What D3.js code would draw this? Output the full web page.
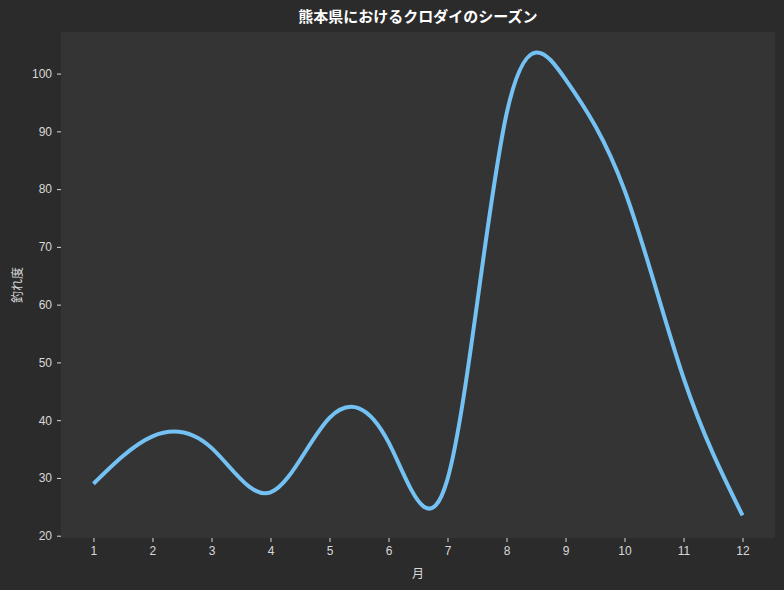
<!DOCTYPE html>
<html lang="ja">
<head>
    <meta charset="UTF-8">
    <script src="https://cdn.jsdelivr.net/npm/d3@7"></script>
    <title>熊本県におけるクロダイのシーズン</title>
    <style>
        body { margin: 0; background-color: #2b2b2b; }
        svg { display: block; font-family: "Noto Sans CJK JP", sans-serif; }
        .tick text { fill: #d8d8d8; font-size: 12px; }
        .tick line { stroke: #d8d8d8; }
        .axis-label { fill: #d8d8d8; font-size: 12px; }
        .title { fill: #ffffff; font-size: 15px; font-weight: bold; }
    </style>
</head>
<body>
    <div id="chart"></div>
    <script>
        // 月ごとの釣れ度
        const months = [1, 2, 3, 4, 5, 6, 7, 8, 9, 10, 11, 12];
        const catchRate = [29, 37.2, 35.2, 27.5, 40.4, 36.2, 29.8, 93.0, 99.0, 79.8, 47.3, 23.5];
        const yTicks = [20, 30, 40, 50, 60, 70, 80, 90, 100];

        const width = 784, height = 590;
        const margin = { top: 32, right: 9, bottom: 52, left: 61 };

        const svg = d3.select("#chart").append("svg")
            .attr("width", width)
            .attr("height", height);

        svg.append("rect")
            .attr("width", width).attr("height", height)
            .attr("fill", "#2b2b2b");

        const x = d3.scaleLinear().domain([0.45, 12.55]).range([margin.left, width - margin.right]);
        const y = d3.scaleLinear().domain([19.6, 107.2]).range([height - margin.bottom, margin.top]);

        svg.append("rect")
            .attr("x", margin.left)
            .attr("y", margin.top)
            .attr("width", width - margin.left - margin.right)
            .attr("height", height - margin.top - margin.bottom)
            .attr("fill", "#343434");

        const xAxis = svg.append("g")
            .attr("transform", `translate(0,${height - margin.bottom})`)
            .call(d3.axisBottom(x).tickValues(months).tickSize(4).tickPadding(4).tickFormat(d3.format("d")));
        xAxis.select(".domain").remove();

        const yAxis = svg.append("g")
            .attr("transform", `translate(${margin.left},0)`)
            .call(d3.axisLeft(y).tickValues(yTicks).tickSize(4).tickPadding(5));
        yAxis.select(".domain").remove();

        const line = d3.line()
            .x((d, i) => x(months[i]))
            .y(d => y(d))
            .curve(d3.curveNatural);

        svg.append("path")
            .datum(catchRate)
            .attr("fill", "none")
            .attr("stroke", "#74c1f3")
            .attr("stroke-width", 4)
            .attr("d", line);

        const cx = (margin.left + width - margin.right) / 2;

        svg.append("text")
            .attr("class", "title")
            .attr("x", cx)
            .attr("y", 22)
            .attr("text-anchor", "middle")
            .text("熊本県におけるクロダイのシーズン");

        svg.append("text")
            .attr("class", "axis-label")
            .attr("x", cx)
            .attr("y", 578)
            .attr("text-anchor", "middle")
            .text("月");

        svg.append("text")
            .attr("class", "axis-label")
            .attr("transform", `translate(22,${(margin.top + height - margin.bottom) / 2}) rotate(-90)`)
            .attr("text-anchor", "middle")
            .text("釣れ度");
    </script>
</body>
</html>
